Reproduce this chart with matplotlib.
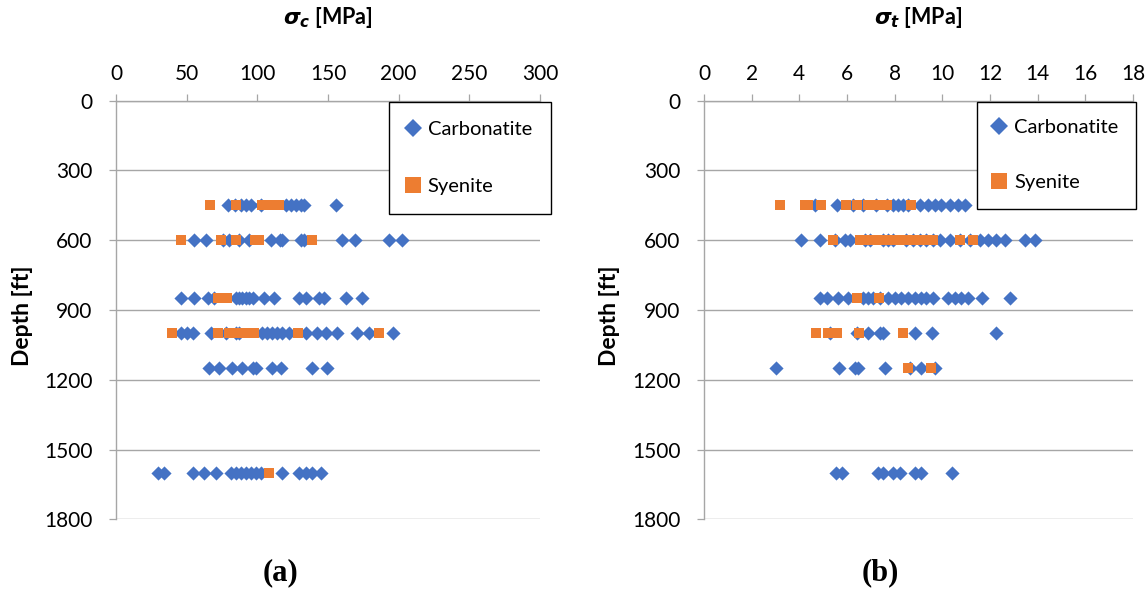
import matplotlib
matplotlib.use('Agg')
import matplotlib.pyplot as plt
from matplotlib.lines import Line2D

plt.rcParams['font.family'] = ['Lato', 'DejaVu Sans']
plt.rcParams['mathtext.fontset'] = 'custom'
plt.rcParams['mathtext.it'] = 'DejaVu Sans:italic:bold'
plt.rcParams['mathtext.rm'] = 'Lato:bold'

BLUE = '#4472C4'
ORANGE = '#ED7D31'
GREY = '#A6A6A6'

depth_ticks = [0, 300, 600, 900, 1200, 1500, 1800]
sc_ticks = [0, 50, 100, 150, 200, 250, 300]
st_ticks = [0, 2, 4, 6, 8, 10, 12, 14, 16, 18]

# compressive strength sigma_c [MPa] per depth [ft]
carb_sc = {
    450: [78.9, 84, 88.3, 91.9, 95.4, 102.5, 120, 123.6, 127.2, 130.7, 133, 156],
    600: [54.9, 63.6, 75.4, 80.1, 87.2, 94.2, 109.5, 115.7, 117.7, 130.7, 133,
          160, 169, 193, 202.4],
    850: [46, 55.4, 64.8, 69.5, 84.8, 87.2, 89.5, 91.9, 94.2, 96.6, 104.8, 111.9,
          129.5, 134.2, 143.6, 147.1, 162.5, 174.2],
    1000: [46, 50, 54.2, 67.2, 77.8, 84.8, 87.2, 103.6, 107, 110.7, 114, 117.7,
           122.4, 134.2, 142.4, 148.3, 156.5, 170.6, 178.9, 195.8],
    1150: [66, 73, 82.4, 89.5, 96.6, 98.9, 110.7, 116.6, 138.9, 149.5],
    1600: [29.5, 34.2, 54.2, 62.5, 70.7, 81.3, 84.8, 88.3, 91.9, 95.4, 98.9, 102.5,
           117.7, 129.5, 134.2, 138.9, 144.8],
}
sye_sc = {
    450: [66.7, 84.8, 103.6, 109.5, 115.4],
    600: [46, 74.2, 84.8, 98.6, 101, 138.9],
    850: [71.9, 78.2],
    1000: [39.6, 71.9, 80.1, 84.8, 89.5, 94.2, 97.7, 129, 186.4],
    1600: [108.3],
}

# tensile strength sigma_t [MPa] per depth [ft]
carb_st = {
    450: [4.65, 5.6, 6.26, 6.68, 7.2, 7.66, 7.93, 8.14, 8.35, 8.56, 9.05, 9.4, 9.68,
          9.96, 10.31, 10.66, 10.97],
    600: [4.07, 4.86, 5.49, 5.91, 6.12, 6.75, 6.96, 7.52, 7.73, 7.93, 8.49, 8.77,
          9.05, 9.33, 9.61, 9.89, 10.31, 10.73, 11.15, 11.57, 11.92, 12.27, 12.62,
          13.45, 13.9],
    850: [4.86, 5.14, 5.63, 6.05, 6.68, 6.89, 7.1, 7.38, 7.73, 8.0, 8.28, 8.56, 8.84,
          9.12, 9.33, 9.61, 10.24, 10.52, 10.8, 11.08, 11.68, 12.85],
    1000: [5.28, 6.4, 6.89, 7.38, 7.52, 8.84, 9.58, 12.27],
    1150: [3.02, 5.67, 6.33, 6.45, 7.59, 8.63, 9.12, 9.68],
    1600: [5.53, 5.81, 7.31, 7.52, 7.93, 8.21, 8.84, 9.12, 10.42],
}
sye_st = {
    450: [3.19, 4.23, 4.37, 4.9, 5.95, 6.4, 6.89, 7.17, 7.45, 7.66, 8.7],
    600: [5.42, 6.54, 6.82, 7.1, 7.38, 7.66, 7.93, 8.14, 8.56, 8.91, 9.33, 9.61,
          10.73, 11.29],
    850: [6.44, 7.35],
    1000: [4.69, 5.21, 5.56, 6.51, 8.33],
    1150: [8.56, 9.54],
}

W, H = 1148, 590
fig = plt.figure(figsize=(W / 100, H / 100), dpi=100)


def add_px_axes(x0, x1, y0, y1):
    return fig.add_axes([x0 / W, 1 - y1 / H, (x1 - x0) / W, (y1 - y0) / H])


def draw_panel(ax, carb, sye, xticks, title, letter, letter_x, leg_x, leg_opts):
    for d, vals in carb.items():
        ax.scatter(vals, [d] * len(vals), marker='D', s=52, color=BLUE,
                   linewidths=0, zorder=3, clip_on=False)
    for d, vals in sye.items():
        ax.scatter(vals, [d] * len(vals), marker='s', s=46, color=ORANGE,
                   linewidths=0, zorder=4, clip_on=False)

    ax.set_xlim(xticks[0], xticks[-1])
    ax.set_ylim(1800, 0)
    ax.set_xticks(xticks)
    ax.set_yticks(depth_ticks)
    ax.xaxis.tick_top()
    ax.tick_params(axis='x', direction='out', length=5, width=0.9, color=GREY,
                   labelsize=15, pad=7)
    ax.tick_params(axis='y', direction='out', length=5, width=0.9, color=GREY,
                   labelsize=15, pad=12)
    for s in ['right', 'bottom']:
        ax.spines[s].set_visible(False)
    for s in ['left', 'top']:
        ax.spines[s].set_color(GREY)
        ax.spines[s].set_linewidth(1.0)
    ax.grid(axis='y', color=GREY, linewidth=1.0)
    ax.set_axisbelow(True)

    pos = ax.get_position()
    cx = pos.x0 + pos.width / 2
    fig.text(cx, 1 - 17 / H, title, ha='center', va='center', fontsize=15.5,
             fontweight='bold')
    fig.text(letter_x / W, 1 - 573 / H, letter, ha='center', va='center',
             fontsize=22, fontweight='bold', family='Liberation Serif')
    fig.text(pos.x0 - 94 / W, 1 - 316 / H, 'Depth [ft]', rotation=90, ha='center',
             va='center', fontsize=16.5, fontweight='bold')

    handles = [
        Line2D([], [], marker='D', ls='none', color=BLUE, markersize=8.7,
               markeredgewidth=0),
        Line2D([], [], marker='s', ls='none', color=ORANGE, markersize=11.5,
               markeredgewidth=0),
    ]
    leg = ax.legend(handles, ['Carbonatite', 'Syenite'], loc='upper left',
                    bbox_to_anchor=(leg_x / W, 1 - 101.7 / H),
                    bbox_transform=fig.transFigure, fontsize=14.5, frameon=True,
                    fancybox=False, framealpha=1, edgecolor='black',
                    borderaxespad=0, **leg_opts)
    leg.get_frame().set_linewidth(1.0)
    leg.set_zorder(5)


ax_a = add_px_axes(116, 540, 100.7, 519.3)
draw_panel(ax_a, carb_sc, sye_sc, sc_ticks, r'$\sigma_c$ [MPa]', '(a)', 280, 389,
           dict(borderpad=0.95, labelspacing=2.0, handlelength=0.47,
                handletextpad=0.5))

ax_b = add_px_axes(704, 1133, 100.7, 519.3)
draw_panel(ax_b, carb_st, sye_st, st_ticks, r'$\sigma_t$ [MPa]', '(b)', 880, 976.7,
           dict(borderpad=0.86, labelspacing=1.9, handlelength=0.54,
                handletextpad=0.47))

fig.savefig('out.png', dpi=100)
